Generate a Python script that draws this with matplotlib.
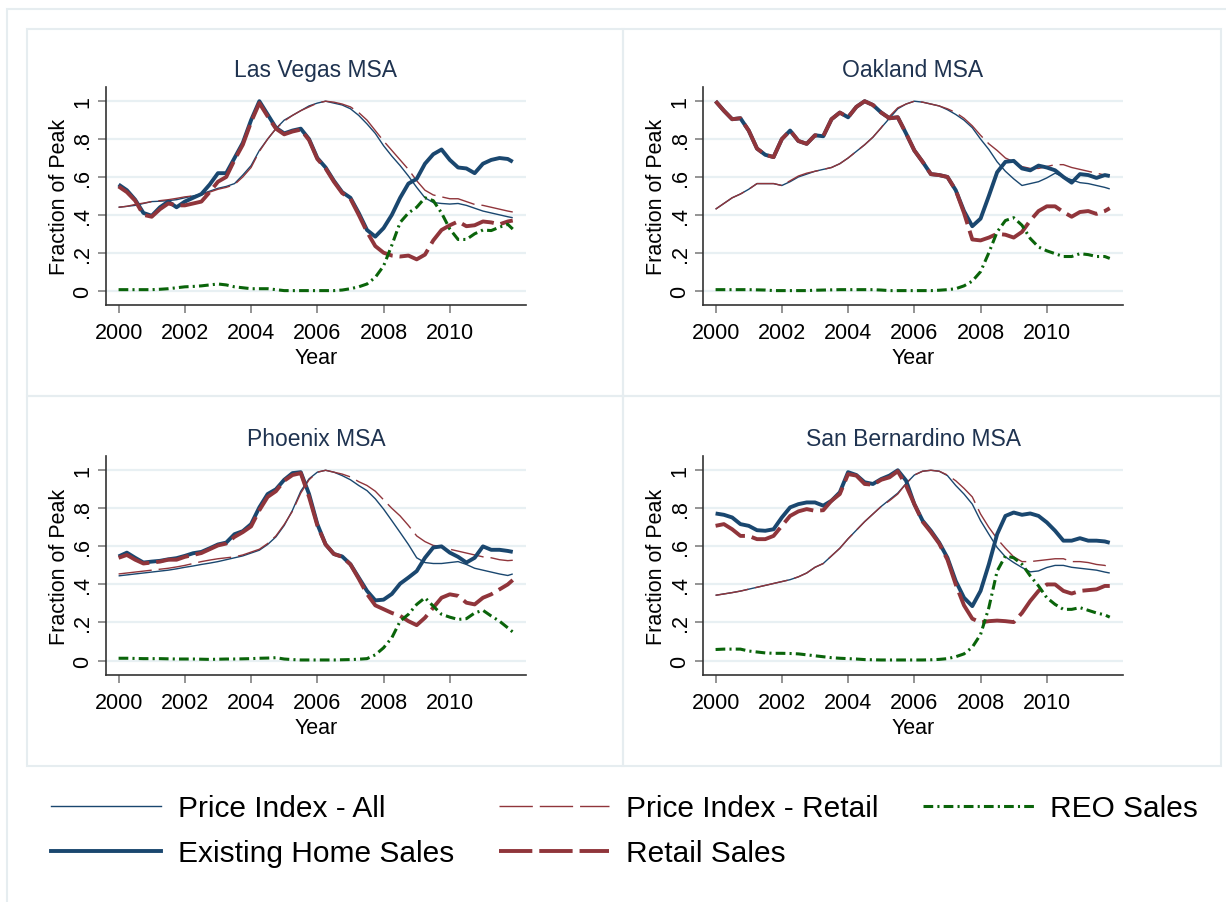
import numpy as np
import matplotlib.pyplot as plt
from matplotlib.patches import Rectangle
from matplotlib.lines import Line2D

plt.rcParams['font.family'] = ['Liberation Sans', 'DejaVu Sans']
plt.rcParams['lines.scale_dashes'] = False

# quarterly sampling of the monthly series, last point Nov 2011
years = np.append(np.arange(2000, 2012, 0.25), 2011.9)

panels = ["Las Vegas MSA", "Oakland MSA", "Phoenix MSA", "San Bernardino MSA"]

# ---- Las Vegas
lv_price_all = [0.44, 0.445, 0.45, 0.46, 0.47, 0.472, 0.475, 0.48, 0.49, 0.50, 0.51, 0.525,
                0.54, 0.55, 0.565, 0.61, 0.66, 0.74, 0.80, 0.855, 0.90, 0.925, 0.95, 0.975,
                0.99, 1.0, 0.99, 0.98, 0.96, 0.925, 0.88, 0.83, 0.765, 0.71, 0.66, 0.605,
                0.545, 0.49, 0.465, 0.46, 0.457, 0.46, 0.45, 0.435, 0.42, 0.41, 0.40, 0.39, 0.385]
lv_price_retail = [0.44, 0.445, 0.455, 0.462, 0.47, 0.475, 0.48, 0.487, 0.495, 0.50, 0.505, 0.52,
                   0.535, 0.545, 0.56, 0.60, 0.65, 0.735, 0.80, 0.855, 0.895, 0.925, 0.95, 0.97,
                   0.99, 1.0, 0.995, 0.985, 0.97, 0.94, 0.90, 0.845, 0.79, 0.74, 0.69, 0.64,
                   0.58, 0.53, 0.505, 0.495, 0.485, 0.485, 0.47, 0.455, 0.45, 0.44, 0.43, 0.42, 0.415]
lv_existing = [0.56, 0.53, 0.48, 0.41, 0.395, 0.44, 0.47, 0.44, 0.47, 0.49, 0.51, 0.56,
               0.62, 0.62, 0.70, 0.78, 0.90, 1.0, 0.93, 0.86, 0.83, 0.845, 0.855, 0.80,
               0.70, 0.65, 0.58, 0.52, 0.49, 0.41, 0.32, 0.285, 0.33, 0.40, 0.49, 0.565,
               0.59, 0.67, 0.72, 0.745, 0.69, 0.65, 0.645, 0.62, 0.67, 0.69, 0.70, 0.695, 0.68]
lv_retail = [0.55, 0.52, 0.475, 0.40, 0.39, 0.43, 0.46, 0.45, 0.45, 0.46, 0.47, 0.52,
             0.575, 0.60, 0.69, 0.77, 0.89, 0.99, 0.92, 0.855, 0.825, 0.84, 0.85, 0.795,
             0.695, 0.645, 0.575, 0.515, 0.485, 0.40, 0.31, 0.235, 0.20, 0.185, 0.18, 0.185,
             0.165, 0.19, 0.265, 0.32, 0.345, 0.365, 0.34, 0.345, 0.365, 0.36, 0.35, 0.365, 0.37]
lv_reo = [0.005, 0.005, 0.005, 0.005, 0.005, 0.007, 0.01, 0.015, 0.02, 0.022, 0.025, 0.03,
          0.035, 0.03, 0.02, 0.015, 0.01, 0.01, 0.01, 0.005, 0.0, 0.0, 0.0, 0.0,
          0.0, 0.0, 0.0, 0.003, 0.01, 0.02, 0.035, 0.07, 0.13, 0.24, 0.36, 0.41,
          0.44, 0.49, 0.475, 0.41, 0.325, 0.27, 0.27, 0.30, 0.32, 0.317, 0.335, 0.35, 0.325]

# ---- Oakland
oak_price_all = [0.43, 0.46, 0.49, 0.51, 0.535, 0.565, 0.565, 0.565, 0.555, 0.575, 0.60, 0.615,
                 0.63, 0.64, 0.65, 0.67, 0.70, 0.735, 0.77, 0.81, 0.86, 0.91, 0.96, 0.985,
                 1.0, 0.995, 0.985, 0.975, 0.955, 0.93, 0.90, 0.86, 0.80, 0.745, 0.68, 0.63,
                 0.59, 0.555, 0.565, 0.575, 0.595, 0.62, 0.60, 0.585, 0.57, 0.565, 0.555, 0.545, 0.537]
oak_price_retail = [0.43, 0.46, 0.49, 0.51, 0.535, 0.565, 0.565, 0.565, 0.555, 0.58, 0.605, 0.62,
                    0.63, 0.64, 0.65, 0.67, 0.70, 0.735, 0.77, 0.81, 0.86, 0.92, 0.965, 0.985,
                    1.0, 0.995, 0.985, 0.975, 0.96, 0.94, 0.91, 0.87, 0.82, 0.775, 0.74, 0.70,
                    0.68, 0.655, 0.645, 0.645, 0.655, 0.665, 0.665, 0.65, 0.64, 0.63, 0.62, 0.61, 0.605]
oak_existing = [1.0, 0.95, 0.905, 0.91, 0.845, 0.75, 0.717, 0.705, 0.80, 0.845, 0.79, 0.775,
                0.82, 0.815, 0.905, 0.94, 0.915, 0.97, 1.0, 0.98, 0.94, 0.91, 0.915, 0.83,
                0.74, 0.68, 0.615, 0.61, 0.60, 0.53, 0.42, 0.34, 0.38, 0.50, 0.625, 0.68,
                0.685, 0.645, 0.635, 0.66, 0.65, 0.635, 0.60, 0.57, 0.615, 0.61, 0.595, 0.61, 0.605]
oak_retail = [1.0, 0.95, 0.905, 0.91, 0.845, 0.75, 0.717, 0.705, 0.80, 0.845, 0.79, 0.775,
              0.82, 0.815, 0.905, 0.94, 0.915, 0.97, 1.0, 0.98, 0.94, 0.91, 0.915, 0.83,
              0.74, 0.68, 0.615, 0.61, 0.60, 0.53, 0.41, 0.27, 0.265, 0.28, 0.30, 0.295,
              0.28, 0.31, 0.37, 0.42, 0.445, 0.445, 0.415, 0.39, 0.415, 0.42, 0.405, 0.42, 0.435]
oak_reo = [0.005, 0.005, 0.005, 0.005, 0.005, 0.004, 0.003, 0.0, 0.0, 0.0, 0.0, 0.0,
           0.002, 0.003, 0.004, 0.005, 0.005, 0.005, 0.005, 0.005, 0.003, 0.0, 0.0, 0.0,
           0.0, 0.0, 0.0, 0.002, 0.005, 0.01, 0.025, 0.05, 0.10, 0.20, 0.31, 0.37,
           0.385, 0.345, 0.275, 0.23, 0.21, 0.195, 0.18, 0.18, 0.195, 0.19, 0.18, 0.18, 0.17]

# ---- Phoenix
phx_price_all = [0.445, 0.45, 0.455, 0.46, 0.465, 0.47, 0.475, 0.482, 0.49, 0.497, 0.505, 0.512,
                 0.52, 0.53, 0.54, 0.55, 0.565, 0.58, 0.61, 0.65, 0.71, 0.79, 0.89, 0.955,
                 0.99, 1.0, 0.99, 0.972, 0.95, 0.92, 0.893, 0.85, 0.796, 0.735, 0.673, 0.61,
                 0.54, 0.515, 0.51, 0.51, 0.515, 0.52, 0.505, 0.485, 0.475, 0.465, 0.455, 0.447, 0.455]
phx_price_retail = [0.455, 0.46, 0.465, 0.47, 0.475, 0.48, 0.485, 0.492, 0.50, 0.51, 0.52, 0.528,
                    0.535, 0.54, 0.545, 0.555, 0.57, 0.585, 0.615, 0.655, 0.715, 0.785, 0.88, 0.95,
                    0.99, 1.0, 0.99, 0.98, 0.965, 0.94, 0.92, 0.89, 0.845, 0.80, 0.76, 0.71,
                    0.655, 0.625, 0.605, 0.60, 0.585, 0.575, 0.565, 0.555, 0.545, 0.54, 0.53, 0.525, 0.527]
phx_existing = [0.547, 0.567, 0.54, 0.515, 0.52, 0.524, 0.532, 0.538, 0.55, 0.564, 0.571, 0.59,
                0.61, 0.62, 0.664, 0.68, 0.717, 0.805, 0.875, 0.90, 0.95, 0.985, 0.99, 0.875,
                0.717, 0.61, 0.56, 0.547, 0.506, 0.436, 0.366, 0.316, 0.32, 0.35, 0.404, 0.436,
                0.47, 0.54, 0.594, 0.60, 0.567, 0.545, 0.515, 0.54, 0.60, 0.582, 0.582, 0.576, 0.571]
phx_retail = [0.54, 0.555, 0.53, 0.51, 0.515, 0.52, 0.53, 0.53, 0.545, 0.555, 0.565, 0.585,
              0.605, 0.615, 0.65, 0.675, 0.705, 0.79, 0.86, 0.89, 0.945, 0.975, 0.985, 0.86,
              0.71, 0.61, 0.56, 0.545, 0.505, 0.43, 0.35, 0.29, 0.27, 0.25, 0.235, 0.207,
              0.186, 0.225, 0.278, 0.33, 0.348, 0.34, 0.304, 0.295, 0.33, 0.348, 0.374, 0.40, 0.423]
phx_reo = [0.012, 0.012, 0.011, 0.01, 0.01, 0.01, 0.009, 0.008, 0.008, 0.008, 0.007, 0.006,
           0.007, 0.008, 0.008, 0.009, 0.01, 0.012, 0.013, 0.015, 0.008, 0.005, 0.003, 0.003,
           0.003, 0.003, 0.003, 0.004, 0.005, 0.007, 0.01, 0.03, 0.067, 0.12, 0.207, 0.243,
           0.295, 0.33, 0.286, 0.243, 0.228, 0.216, 0.22, 0.25, 0.264, 0.234, 0.207, 0.172, 0.15]

# ---- San Bernardino
sb_price_all = [0.343, 0.35, 0.357, 0.365, 0.375, 0.385, 0.395, 0.405, 0.415, 0.425, 0.44, 0.46,
                0.49, 0.51, 0.55, 0.59, 0.64, 0.685, 0.73, 0.77, 0.81, 0.845, 0.88, 0.93,
                0.975, 0.995, 1.0, 0.995, 0.972, 0.92, 0.875, 0.822, 0.735, 0.664, 0.594, 0.545,
                0.515, 0.489, 0.466, 0.471, 0.489, 0.50, 0.50, 0.49, 0.485, 0.48, 0.475, 0.465, 0.46]
sb_price_retail = [0.343, 0.35, 0.357, 0.365, 0.375, 0.385, 0.395, 0.405, 0.415, 0.425, 0.44, 0.46,
                   0.49, 0.51, 0.55, 0.59, 0.64, 0.685, 0.73, 0.77, 0.81, 0.84, 0.875, 0.93,
                   0.975, 0.995, 1.0, 0.995, 0.975, 0.945, 0.905, 0.86, 0.77, 0.70, 0.64, 0.59,
                   0.545, 0.52, 0.52, 0.525, 0.53, 0.535, 0.535, 0.52, 0.52, 0.515, 0.505, 0.50, 0.49]
sb_existing = [0.773, 0.766, 0.752, 0.717, 0.708, 0.685, 0.682, 0.69, 0.752, 0.805, 0.822, 0.831,
               0.831, 0.814, 0.84, 0.884, 0.99, 0.975, 0.937, 0.928, 0.954, 0.972, 1.0, 0.946,
               0.822, 0.735, 0.682, 0.62, 0.54, 0.418, 0.33, 0.286, 0.366, 0.506, 0.664, 0.76,
               0.778, 0.766, 0.773, 0.76, 0.726, 0.682, 0.63, 0.63, 0.643, 0.63, 0.63, 0.626, 0.619]
sb_retail = [0.708, 0.717, 0.69, 0.655, 0.655, 0.638, 0.638, 0.655, 0.708, 0.76, 0.784, 0.796,
             0.787, 0.79, 0.84, 0.875, 0.98, 0.972, 0.928, 0.924, 0.95, 0.963, 0.995, 0.92,
             0.822, 0.73, 0.675, 0.615, 0.53, 0.40, 0.29, 0.22, 0.20, 0.207, 0.21, 0.207,
             0.202, 0.25, 0.313, 0.366, 0.40, 0.40, 0.366, 0.352, 0.366, 0.37, 0.374, 0.392, 0.392]
sb_reo = [0.058, 0.06, 0.06, 0.06, 0.05, 0.045, 0.04, 0.038, 0.038, 0.037, 0.035, 0.03,
          0.025, 0.02, 0.015, 0.012, 0.01, 0.008, 0.005, 0.004, 0.003, 0.003, 0.003, 0.003,
          0.003, 0.003, 0.004, 0.006, 0.01, 0.02, 0.035, 0.07, 0.137, 0.278, 0.47, 0.55,
          0.54, 0.506, 0.445, 0.392, 0.33, 0.295, 0.269, 0.269, 0.278, 0.264, 0.25, 0.24, 0.228]

data = {
    "Las Vegas MSA": (lv_price_all, lv_price_retail, lv_existing, lv_retail, lv_reo),
    "Oakland MSA": (oak_price_all, oak_price_retail, oak_existing, oak_retail, oak_reo),
    "Phoenix MSA": (phx_price_all, phx_price_retail, phx_existing, phx_retail, phx_reo),
    "San Bernardino MSA": (sb_price_all, sb_price_retail, sb_existing, sb_retail, sb_reo),
}

NAVY = "#1a476f"
MAROON = "#90353b"
GREEN = "#0a640a"
GRID = "#e8f0f3"
BOX = "#e6edf0"

W, H = 1226, 903

styles = [
    dict(color=NAVY, lw=1.0, ls='-'),
    dict(color=MAROON, lw=1.0, ls=(0, (24, 5))),
    dict(color=NAVY, lw=2.8, ls='-'),
    dict(color=MAROON, lw=2.8, ls=(0, (24, 5))),
    dict(color=GREEN, lw=2.2, ls=(0, (7, 3, 1.5, 3))),
]
labels = ["Price Index - All", "Price Index - Retail", "Existing Home Sales",
          "Retail Sales", "REO Sales"]

# axes rectangles in pixels: left, top, right, bottom
rects = {
    "Las Vegas MSA": (106, 88, 526, 306),
    "Oakland MSA": (703, 88, 1123, 306),
    "Phoenix MSA": (106, 457, 526, 676),
    "San Bernardino MSA": (703, 457, 1123, 676),
}

fig = plt.figure(figsize=(W / 100, H / 100), dpi=100)


def frac_box(x0, y0, x1, y1):
    return [x0 / W, 1 - y1 / H, (x1 - x0) / W, (y1 - y0) / H]


# frames round the graph region and the four panels
fig.add_artist(Rectangle((7 / W, -0.05), 1.1, 1 - 10 / H + 0.05, transform=fig.transFigure,
                         fill=False, ec=BOX, lw=1.5))
for (x0, y0, x1, y1) in [(27, 30, 623, 397), (623, 30, 1221, 397),
                         (27, 397, 623, 767), (623, 397, 1221, 767)]:
    b = frac_box(x0, y0, x1, y1)
    fig.add_artist(Rectangle((b[0], b[1]), b[2], b[3], transform=fig.transFigure,
                             fill=False, ec=BOX, lw=1.5))

for name in panels:
    x0, y0, x1, y1 = rects[name]
    ax = fig.add_axes(frac_box(x0, y0, x1, y1))
    for series, st in zip(data[name], styles):
        ax.plot(years, series, color=st['color'], lw=st['lw'], linestyle=st['ls'],
                solid_capstyle='butt', dash_capstyle='butt')
    ax.set_xlim(1999.62, 2012.3)
    ax.set_ylim(-0.076, 1.075)
    ax.set_xticks([2000, 2002, 2004, 2006, 2008, 2010])
    ax.set_yticks([0, 0.2, 0.4, 0.6, 0.8, 1.0])
    ax.set_yticklabels(['0', '.2', '.4', '.6', '.8', '1'], rotation=90, va='center')
    ax.grid(axis='y', color=GRID, lw=1.6)
    ax.set_axisbelow(True)
    for side in ['top', 'right']:
        ax.spines[side].set_visible(False)
    for side in ['left', 'bottom']:
        ax.spines[side].set_color('#333333')
        ax.spines[side].set_linewidth(1.2)
    ax.tick_params(length=6, width=1.1, color='#777777', labelsize=15.5)
    ax.tick_params(axis='x', pad=6)
    ax.tick_params(axis='y', pad=3)
    ax.set_title(name, fontsize=16.5, color='#1f3350', pad=8)
    ax.set_ylabel("Fraction of Peak", fontsize=15.5, labelpad=2)
    ax.set_xlabel("Year", fontsize=15.5, labelpad=3)

handles = [Line2D([], [], color=st['color'], lw=st['lw'], linestyle=st['ls'],
                  dash_capstyle='butt') for st in styles]
order = [0, 2, 1, 3, 4]
fig.legend([handles[i] for i in order], [labels[i] for i in order], ncol=3,
           loc='upper left', bbox_to_anchor=(51 / W, 1 - 795 / H), frameon=False,
           fontsize=21.5, handlelength=3.7, handletextpad=0.55, columnspacing=1.5,
           labelspacing=0.58, borderpad=0, borderaxespad=0)

fig.savefig("out.png", dpi=100)
